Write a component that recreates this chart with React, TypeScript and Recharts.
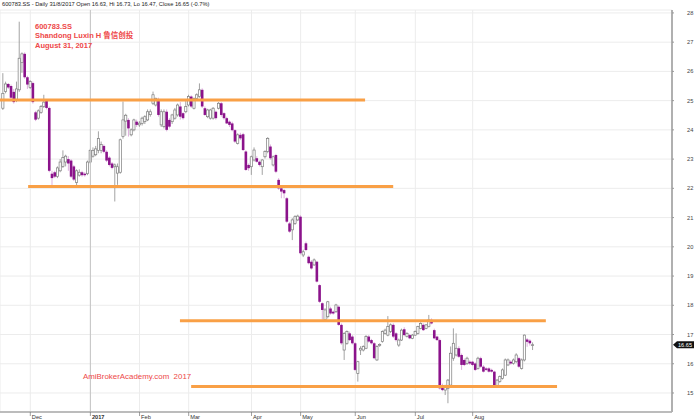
import React from 'react';
import { ComposedChart, Bar, XAxis, YAxis, CartesianGrid, ReferenceLine } from 'recharts';

// Daily OHLC, 17 Nov 2016 .. 31 Aug 2017 (trading-day index)
const opens = [
  24.74, 25.31, 25.57, 25.50, 25.30, 25.00, 25.37, 26.30, 26.60, 25.80,
  25.45, 25.60, 24.60, 24.40, 24.60, 24.80, 25.00, 24.75, 22.50, 22.55,
  22.40, 22.60, 22.75, 22.90, 23.00, 22.95, 22.75, 22.20, 22.45, 22.55,
  22.50, 22.50, 22.90, 23.10, 23.15, 23.30, 23.30, 23.45, 23.25, 23.05,
  22.85, 22.74, 22.52, 22.55, 23.77, 24.30, 24.34, 23.83, 24.00, 24.28,
  24.17, 24.22, 24.28, 24.34, 24.52, 24.91, 24.85, 25.02, 24.17, 24.11,
  24.62, 24.34, 24.28, 24.40, 24.51, 24.80, 24.57, 24.62, 24.85, 25.14,
  24.74, 25.08, 25.14, 25.37, 24.74, 24.45, 24.40, 24.40, 24.62, 24.74,
  24.91, 24.57, 24.40, 24.28, 24.22, 23.99, 23.54, 23.83, 23.85, 23.26,
  22.80, 22.74, 22.97, 23.03, 22.91, 22.74, 23.08, 23.26, 23.43, 22.80,
  23.14, 22.29, 22.00, 21.94, 21.66, 20.80, 20.58, 20.80, 20.92, 21.03,
  19.72, 20.12, 19.66, 19.49, 19.38, 19.49, 18.69, 18.07, 17.50, 17.61,
  17.89, 17.78, 17.78, 17.95, 17.33, 16.47, 16.70, 17.04, 16.93, 16.70,
  15.67, 16.47, 16.47, 16.53, 16.93, 16.81, 16.70, 16.13, 16.62, 16.76,
  17.04, 16.98, 17.10, 17.33, 17.04, 16.64, 16.81, 17.18, 16.93, 16.98,
  16.87, 16.98, 17.04, 17.21, 17.33, 17.21, 17.27, 17.50, 17.15, 16.93,
  16.81, 15.27, 15.10, 15.16, 15.27, 16.19, 16.30, 16.53, 16.30, 16.13,
  16.01, 16.07, 16.07, 16.01, 15.84, 16.19, 15.90, 15.84, 15.84, 15.79,
  15.73, 15.19, 15.39, 15.50, 15.61, 15.96, 16.07, 16.01, 16.07, 16.19,
  15.84, 16.13, 16.83, 16.79, 16.63,
];
const highs = [
  25.94, 25.65, 25.60, 25.55, 25.40, 25.65, 27.70, 26.65, 26.65, 25.85,
  25.70, 25.65, 24.65, 24.70, 24.85, 25.20, 25.05, 24.80, 22.60, 22.60,
  22.75, 23.00, 23.30, 23.15, 23.10, 23.00, 22.80, 22.65, 22.65, 22.60,
  22.55, 22.95, 23.35, 23.40, 23.45, 23.95, 23.60, 23.50, 23.30, 23.10,
  22.90, 22.85, 22.85, 23.70, 24.97, 24.55, 24.40, 24.05, 24.38, 24.35,
  24.30, 24.45, 24.50, 24.70, 24.70, 25.31, 25.10, 25.10, 24.70, 24.70,
  24.70, 24.40, 24.55, 24.75, 24.90, 24.95, 24.60, 25.02, 25.20, 25.18,
  25.10, 25.25, 25.59, 25.42, 24.80, 24.72, 24.72, 24.78, 24.66, 24.95,
  24.95, 24.60, 24.45, 24.32, 24.28, 24.02, 23.88, 23.90, 23.90, 23.30,
  22.85, 23.12, 23.40, 23.10, 22.95, 23.00, 23.30, 23.75, 23.50, 23.12,
  23.18, 22.35, 22.05, 21.98, 21.70, 20.85, 20.98, 21.08, 21.10, 21.08,
  19.90, 20.18, 19.70, 19.55, 19.60, 19.52, 18.72, 18.10, 17.90, 18.15,
  17.95, 17.82, 18.05, 18.00, 17.38, 17.08, 17.14, 17.10, 16.98, 16.74,
  16.10, 16.60, 16.63, 16.98, 16.98, 16.85, 16.74, 16.63, 16.70, 17.14,
  17.20, 17.63, 17.38, 17.38, 17.08, 16.86, 17.20, 17.25, 17.08, 17.02,
  17.02, 17.14, 17.30, 17.42, 17.38, 17.36, 17.67, 17.55, 17.20, 16.96,
  16.86, 15.32, 15.28, 15.48, 16.59, 17.21, 17.04, 16.60, 16.35, 16.18,
  16.24, 16.12, 16.10, 16.05, 16.24, 16.24, 15.95, 15.88, 15.88, 15.83,
  15.76, 15.48, 15.60, 15.84, 16.18, 16.18, 16.12, 16.18, 16.36, 16.24,
  16.18, 17.00, 16.88, 16.84, 16.73,
];
const lows = [
  24.68, 25.25, 25.40, 25.00, 24.90, 24.95, 25.30, 25.95, 25.75, 25.40,
  25.40, 24.90, 24.30, 24.35, 24.55, 24.75, 24.70, 22.55, 22.06, 22.35,
  22.35, 22.55, 22.70, 22.75, 22.60, 22.35, 22.25, 22.10, 22.40, 22.40,
  22.40, 22.45, 22.85, 23.05, 23.10, 23.20, 23.20, 23.20, 22.90, 22.75,
  22.65, 21.55, 22.12, 22.50, 23.70, 23.80, 23.77, 23.78, 23.95, 24.10,
  24.10, 24.15, 24.20, 24.30, 24.45, 24.85, 24.80, 24.45, 24.10, 24.05,
  23.95, 24.05, 24.20, 24.35, 24.45, 24.35, 24.35, 24.57, 24.80, 24.75,
  24.70, 25.00, 25.10, 24.75, 24.48, 24.40, 24.35, 24.35, 24.35, 24.70,
  24.45, 24.35, 24.20, 24.10, 23.95, 23.55, 23.50, 23.65, 23.28, 22.60,
  22.60, 22.46, 22.92, 22.88, 22.75, 22.46, 23.02, 23.20, 22.98, 22.75,
  22.52, 21.95, 21.66, 21.66, 20.82, 20.48, 20.23, 20.75, 20.88, 19.74,
  19.65, 19.85, 19.40, 19.22, 19.35, 18.78, 18.08, 17.50, 17.46, 17.55,
  17.68, 17.68, 17.74, 17.30, 16.65, 16.13, 16.65, 16.78, 16.66, 15.75,
  15.39, 16.30, 16.42, 16.50, 16.72, 16.66, 16.15, 16.10, 16.58, 16.72,
  17.00, 16.94, 17.05, 16.88, 16.76, 16.58, 16.78, 16.94, 16.90, 16.84,
  16.84, 16.95, 17.00, 17.18, 17.12, 17.18, 17.24, 17.35, 16.84, 16.78,
  15.12, 15.06, 14.93, 14.65, 15.22, 16.10, 16.25, 16.20, 15.79, 15.92,
  15.96, 15.96, 15.92, 15.75, 15.80, 15.86, 15.70, 15.75, 15.70, 15.70,
  15.22, 15.17, 15.35, 15.46, 15.58, 15.92, 15.97, 15.97, 16.02, 15.86,
  15.80, 16.08, 16.58, 16.62, 16.47,
];
const closes = [
  25.25, 25.57, 25.45, 25.10, 24.95, 25.40, 26.45, 26.60, 25.80, 25.55,
  25.65, 24.95, 24.35, 24.65, 24.80, 24.95, 24.75, 22.60, 22.35, 22.40,
  22.70, 22.90, 23.05, 23.10, 22.85, 22.40, 22.30, 22.60, 22.55, 22.45,
  22.45, 22.90, 23.30, 23.30, 23.35, 23.70, 23.50, 23.25, 22.95, 22.80,
  22.70, 22.80, 22.74, 23.66, 24.34, 24.50, 24.05, 24.00, 24.34, 24.17,
  24.23, 24.40, 24.45, 24.62, 24.62, 25.20, 25.08, 24.51, 24.62, 24.62,
  24.00, 24.11, 24.51, 24.68, 24.85, 24.45, 24.40, 24.80, 25.14, 24.80,
  25.08, 25.20, 25.37, 24.80, 24.51, 24.68, 24.68, 24.74, 24.40, 24.91,
  24.51, 24.40, 24.22, 24.17, 23.99, 23.60, 23.83, 23.71, 23.31, 22.63,
  22.69, 23.08, 23.31, 22.91, 22.80, 22.97, 23.26, 23.71, 23.03, 23.08,
  22.57, 22.00, 21.89, 21.83, 20.86, 20.52, 20.92, 21.03, 21.05, 19.78,
  19.83, 19.89, 19.44, 19.26, 19.55, 18.81, 18.12, 17.84, 17.84, 18.12,
  17.72, 17.72, 18.01, 17.33, 16.70, 17.04, 17.10, 16.81, 16.70, 15.79,
  16.07, 16.53, 16.59, 16.93, 16.76, 16.70, 16.19, 16.59, 16.66, 17.10,
  17.15, 17.27, 17.33, 16.93, 16.81, 16.81, 17.15, 16.98, 17.04, 16.87,
  16.98, 17.10, 17.27, 17.38, 17.15, 17.33, 17.50, 17.38, 16.87, 16.81,
  15.16, 15.10, 15.24, 15.44, 16.36, 16.70, 16.53, 16.24, 15.96, 15.96,
  16.19, 16.01, 15.96, 15.79, 16.19, 15.90, 15.73, 15.79, 15.73, 15.73,
  15.27, 15.44, 15.56, 15.79, 16.13, 16.13, 16.01, 16.13, 16.30, 15.90,
  16.13, 16.98, 16.75, 16.70, 16.65,
];

const monthTickIdx = [10, 32, 50, 68, 91, 109, 129, 151, 172];
const monthTickLabels = ['Dec', '2017', 'Feb', 'Mar', 'Apr', 'May', 'Jun', 'Jul', 'Aug'];
const priceTicks = [15, 16, 17, 18, 19, 20, 21, 22, 23, 24, 25, 26, 27, 28];

// support / resistance levels (price, start index, end index)
const levelPrices = [25.02, 22.06, 17.47, 15.22];
const levelFrom = [-1.1, 9.2, 64.8, 68.9];
const levelTo = [132.6, 142.9, 198.8, 202.9];

const lastClose = 16.65;
const headerText = '600783.SS - Daily 31/8/2017 Open 16.63, Hi 16.73, Lo 16.47, Close 16.65 (-0.7%)';
const titleLines = ['600783.SS', 'Shandong Luxin H 鲁信创投', 'August 31, 2017'];
const watermark = 'AmiBrokerAcademy.com\u00a0\u00a02017';

const FONT = '"Liberation Sans", Arial, "Noto Sans CJK SC", sans-serif';

const data = opens.map((o, i) => ({
  i,
  o,
  h: highs[i],
  l: lows[i],
  c: closes[i],
  range: [lows[i], highs[i]],
}));

const Candle = (props: any) => {
  const { x, y, width, height, payload } = props;
  if (x == null || y == null || !payload) return null;
  const { o, h, l, c } = payload;
  const top = Math.min(y, y + height);
  const bot = Math.max(y, y + height);
  const ppu = h > l ? (bot - top) / (h - l) : 0;
  const py = (v: number) => top + (h - v) * ppu;
  const cx = x + width / 2;
  const up = c >= o;
  const bTop = py(Math.max(o, c));
  const bBot = py(Math.min(o, c));
  const bh = Math.max(bBot - bTop, 0.8);
  return (
    <g>
      <line x1={cx} x2={cx} y1={top} y2={bot} stroke={up ? '#8c8c8c' : '#d49ad4'} strokeWidth={0.8} />
      {up ? (
        <rect x={cx - 1.1} y={bTop} width={2.2} height={bh} fill="#ffffff" stroke="#7c7c7c" strokeWidth={0.7} />
      ) : (
        <rect x={cx - 1.3} y={bTop} width={2.6} height={bh} fill="#8b138b" />
      )}
    </g>
  );
};

const MonthTick = (props: any) => {
  const { x, y, payload } = props;
  const k = monthTickIdx.indexOf(payload.value);
  const label = k >= 0 ? monthTickLabels[k] : '';
  return (
    <g>
      <line x1={x} x2={x} y1={y} y2={y + 4} stroke="#777" strokeWidth={0.7} />
      <text
        x={x + 1.5}
        y={y + 6.6}
        fontSize={5.7}
        fill="#333"
        fontFamily={FONT}
        fontWeight={label === '2017' ? 'bold' : 'normal'}
      >
        {label}
      </text>
    </g>
  );
};

const PriceTag = (props: any) => {
  const vb = props.viewBox || {};
  const rx = (vb.x || 0) + (vb.width || 0);
  const y = vb.y || 0;
  return (
    <g>
      <polygon
        points={`${rx + 1},${y} ${rx + 5},${y - 3.6} ${rx + 22},${y - 3.6} ${rx + 22},${y + 3.6} ${rx + 5},${y + 3.6}`}
        fill="#111"
      />
      <text x={rx + 6} y={y + 2} fontSize={5.6} fill="#fff" fontFamily={FONT}>
        {lastClose.toFixed(2)}
      </text>
    </g>
  );
};

export default function App() {
  return (
    <div style={{ position: 'absolute', left: 0, top: 0, width: 700, height: 420, background: '#fff' }}>
      <ComposedChart
        width={700}
        height={420}
        data={data}
        margin={{ top: 10, right: 0, bottom: 0, left: 0 }}
      >
        <CartesianGrid stroke="#ececec" strokeWidth={1} />
        <XAxis
          type="number"
          dataKey="i"
          domain={[-1.1, 245]}
          allowDataOverflow
          ticks={monthTickIdx}
          interval={0}
          height={8}
          tickLine={false}
          tickSize={0}
          tickMargin={0}
          tick={<MonthTick />}
          axisLine={{ stroke: '#a8a8a8', strokeWidth: 1.5 }}
        />
        <YAxis
          orientation="right"
          type="number"
          domain={[14.35, 28.1]}
          allowDataOverflow
          ticks={priceTicks}
          interval={0}
          width={28}
          tickSize={2}
          tickMargin={13}
          tick={{ fontSize: 5.7, fill: '#444', fontFamily: FONT }}
          tickLine={{ stroke: '#999' }}
          axisLine={{ stroke: '#b0b0b0', strokeWidth: 2 }}
        />
        <ReferenceLine x={monthTickIdx[1]} stroke="#c4c4c4" strokeWidth={1} />
        <Bar
          dataKey="range"
          barSize={2.4}
          isAnimationActive={false}
          shape={(p: any) => <Candle {...p} />}
        />
        {levelPrices.map((p, k) => (
          <ReferenceLine
            key={k}
            segment={[{ x: levelFrom[k], y: p }, { x: levelTo[k], y: p }]}
            stroke="#f9a046"
            strokeWidth={3}
            ifOverflow="visible"
          />
        ))}
        <ReferenceLine y={lastClose} stroke="none" strokeOpacity={0} label={(p: any) => <PriceTag {...p} />} />
      </ComposedChart>
      <svg
        width={700}
        height={420}
        style={{ position: 'absolute', left: 0, top: 0, pointerEvents: 'none' }}
      >
        <text x={2} y={6.2} fontSize={5.7} fill="#222" fontFamily={FONT}>
          {headerText}
        </text>
        {titleLines.map((t, k) => (
          <text key={k} x={35} y={28.6 + k * 9.6} fontSize={7.5} fontWeight="bold" fill="#ee4848" fontFamily={FONT}>
            {t}
          </text>
        ))}
        <text x={83} y={379} fontSize={7.9} fill="#ee4848" fontFamily={FONT}>
          {watermark}
        </text>
      </svg>
    </div>
  );
}
